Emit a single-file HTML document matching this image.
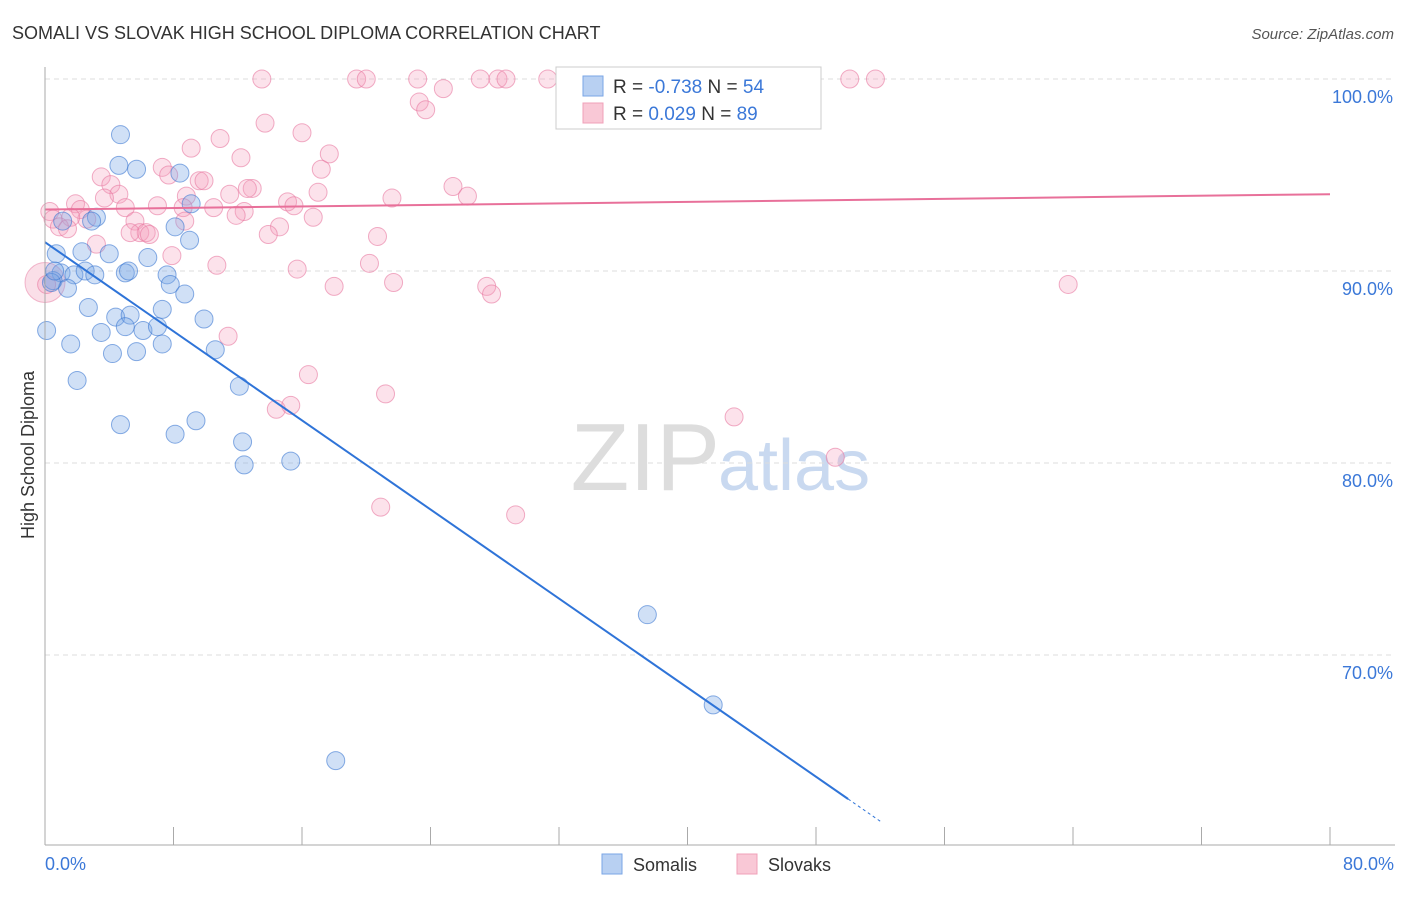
<!DOCTYPE html>
<html><head><meta charset="utf-8"><style>
body{margin:0;background:#fff;font-family:"Liberation Sans",sans-serif;}
svg text{font-family:"Liberation Sans",sans-serif;}
</style></head><body>
<svg id="c" width="1406" height="892">
<text x="12" y="39" font-size="18" fill="#333">SOMALI VS SLOVAK HIGH SCHOOL DIPLOMA CORRELATION CHART</text>
<text x="1394" y="39" font-size="15" fill="#555" font-style="italic" text-anchor="end">Source: ZipAtlas.com</text>
<text x="720" y="490" font-size="96" fill="#ddd" text-anchor="end" font-family="Liberation Serif">ZIP</text>
<text x="718" y="490" font-size="72" fill="#c9d9f0">atlas</text>
<g id="grid"></g>
<g id="pts"></g>
<g id="lines"></g>
<line x1="45" y1="67" x2="45" y2="845" stroke="#aaa"/>
<line x1="45" y1="845" x2="1395" y2="845" stroke="#aaa"/>
<text transform="translate(34,455) rotate(-90)" font-size="18" fill="#333" text-anchor="middle">High School Diploma</text>
<text x="45" y="870" font-size="18" fill="#3b78d8">0.0%</text>
<text x="1394" y="870" font-size="18" fill="#3b78d8" text-anchor="end">80.0%</text>
<g>
<rect x="556" y="67" width="265" height="62" fill="#fff" stroke="#ccc"/>
<rect x="583" y="76" width="20" height="20" fill="#b8d0f2" stroke="#7aa6e6"/>
<rect x="583" y="103" width="20" height="20" fill="#f9c8d6" stroke="#f0a0b8"/>
<text x="613" y="93" font-size="19" fill="#333">R = <tspan fill="#3b78d8">-0.738</tspan>   N = <tspan fill="#3b78d8">54</tspan></text>
<text x="613" y="120" font-size="19" fill="#333">R =  <tspan fill="#3b78d8"> 0.029</tspan>   N = <tspan fill="#3b78d8">89</tspan></text>
</g>
<g>
<rect x="602" y="854" width="20" height="20" fill="#b8d0f2" stroke="#7aa6e6"/>
<text x="633" y="871" font-size="18" fill="#333">Somalis</text>
<rect x="737" y="854" width="20" height="20" fill="#f9c8d6" stroke="#f0a0b8"/>
<text x="768" y="871" font-size="18" fill="#333">Slovaks</text>
</g>
</svg>
<script>
const yTicks=[100,90,80,70];
const yTickLabels=["100.0%","90.0%","80.0%","70.0%"];
const xTicks=[0,8,16,24,32,40,48,56,64,72,80];
const somaliX=[4.7,4.6,5.7,8.4,9.1,3.2,2.9,1.1,8.1,9.0,0.7,2.3,4.0,6.4,1.0,1.8,2.5,3.1,5.0,5.2,7.6,0.5,7.8,1.4,8.7,2.7,7.3,9.9,4.4,5.3,5.0,6.1,7.0,3.5,0.1,1.6,7.3,10.6,4.2,5.7,2.0,12.1,4.7,9.4,8.1,12.3,12.4,15.3,37.5,41.6,18.1,0.4,0.6];
const somaliY=[97.1,95.5,95.3,95.1,93.5,92.8,92.6,92.6,92.3,91.6,90.9,91.0,90.9,90.7,89.9,89.8,90.0,89.8,89.9,90.0,89.8,89.5,89.3,89.1,88.8,88.1,88.0,87.5,87.6,87.7,87.1,86.9,87.1,86.8,86.9,86.2,86.2,85.9,85.7,85.8,84.3,84.0,82.0,82.2,81.5,81.1,79.9,80.1,72.1,67.4,64.5,89.4,90.0];
const slovakX=[13.5,19.4,20.0,23.2,27.1,28.2,28.7,31.3,38.0,38.3,50.1,51.7,24.8,23.3,23.7,13.7,16.0,10.9,9.1,17.7,12.2,17.2,7.3,7.7,3.5,9.6,9.9,4.1,12.9,12.6,25.4,8.8,11.5,17.0,4.6,3.7,26.3,21.6,15.1,1.9,7.0,5.0,0.3,2.2,10.5,12.4,11.9,15.5,8.6,0.5,2.6,16.7,5.6,1.6,8.7,0.9,1.4,14.6,13.9,5.9,6.3,6.5,5.3,20.7,3.2,7.9,10.7,20.2,15.7,21.7,18.0,27.5,27.8,63.7,11.4,16.4,21.2,14.4,15.3,42.9,49.2,20.9,29.3,0.1];
const slovakY=[100,100,100,100,100,100,100,100,100,100,100,100,99.5,98.8,98.4,97.7,97.2,96.9,96.4,96.1,95.9,95.3,95.4,95.0,94.9,94.7,94.7,94.5,94.3,94.3,94.4,93.9,94.0,94.1,94.0,93.8,93.9,93.8,93.6,93.5,93.4,93.3,93.1,93.2,93.3,93.1,92.9,93.4,93.3,92.7,92.7,92.8,92.6,92.8,92.6,92.3,92.2,92.3,91.9,92.0,92.0,91.9,92.0,91.8,91.4,90.8,90.3,90.4,90.1,89.4,89.2,89.2,88.8,89.3,86.6,84.6,83.6,82.8,83.0,82.4,80.3,77.7,77.3,89.3];
const somaliTrend=[0,91.5,50,62.5];
const slovakTrend=[0,93.2,80,94.0];
const X=v=>45+v/80*1285, Y=v=>79+(100-v)*19.2;
const ns="http://www.w3.org/2000/svg";
function mk(t,a,p){const e=document.createElementNS(ns,t);for(const k in a)e.setAttribute(k,a[k]);p.appendChild(e);return e;}
const g=document.getElementById('grid');
yTicks.forEach((t,i)=>{
 const l=mk('line',{x1:45,x2:1395,y1:Y(t),y2:Y(t),stroke:'#ddd','stroke-dasharray':'5,4'},g);
 
 
 const tx=mk('text',{x:1393,y:Y(t)+24,'font-size':18,fill:'#3b78d8','text-anchor':'end'},g);
 tx.textContent=yTickLabels[i];
 
 
});
xTicks.forEach(t=>{
 const l=mk('line',{x1:X(t),x2:X(t),y1:827,y2:845,stroke:'#aaa'},g);
 
 
});
const p=document.getElementById('pts');
const big=mk('circle',{cx:X(0),cy:Y(89.4),r:20,fill:'rgba(240,150,180,0.3)',stroke:'rgba(230,120,160,0.5)'},p);


slovakX.forEach((x,i)=>{
 const c=mk('circle',{cx:X(x),cy:Y(slovakY[i]),r:9,fill:'rgba(245,160,190,0.3)',stroke:'rgba(232,120,160,0.6)'},p);
 
 
});
somaliX.forEach((x,i)=>{
 const c=mk('circle',{cx:X(x),cy:Y(somaliY[i]),r:9,fill:'rgba(120,165,230,0.35)',stroke:'rgba(60,120,210,0.6)'},p);
 
 
});
const L=document.getElementById('lines');
const s=somaliTrend, sl=(s[3]-s[1])/(s[2]-s[0]);
const tl=mk('line',{x1:X(s[0]),y1:Y(s[1]),x2:X(s[2]),y2:Y(s[3]),stroke:'#2f74d8','stroke-width':2},L);


const td=mk('line',{x1:X(s[2]),y1:Y(s[3]),x2:X(52),y2:Y(s[1]+sl*52),stroke:'#2f74d8','stroke-width':1,'stroke-dasharray':'3,3'},L);


const k=slovakTrend;
const pl=mk('line',{x1:X(k[0]),y1:Y(k[1]),x2:X(k[2]),y2:Y(k[3]),stroke:'#e8709a','stroke-width':2},L);


</script>
</body></html>
